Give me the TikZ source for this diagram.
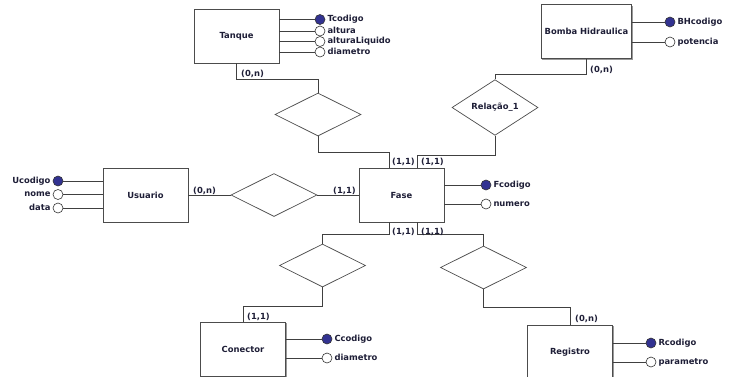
\documentclass[tikz,border=0pt]{standalone}
\usepackage{fontspec}
\setmainfont{DejaVu Sans}
\usetikzlibrary{shapes.geometric,shadows}
\definecolor{keyblue}{RGB}{50,50,145}
\definecolor{txt}{RGB}{30,30,55}
\tikzset{
  ent/.style={draw=black!70, fill=white, line width=0.8pt, minimum width=85pt, minimum height=54pt,
    drop shadow={shadow xshift=1pt, shadow yshift=-1pt, fill=black!40, opacity=1}},
  rel/.style={diamond, draw=black!70, fill=white, line width=0.7pt, minimum width=86pt, minimum height=43pt, inner sep=0pt},
  att/.style={circle, draw=black!80, fill=white, line width=0.6pt, minimum size=10pt, inner sep=0pt},
  key/.style={att, fill=keyblue},
  lbl/.style={inner sep=0pt, text height=6.5pt, text depth=2pt},
  card/.style={lbl, anchor=west},
  conn/.style={draw=black!75, line width=0.8pt},
}
\begin{document}
\begin{tikzpicture}[x=1pt, y=-1pt, font=\bfseries\fontsize{8.4}{10}\selectfont, text=txt]
\useasboundingbox (0,0) rectangle (736,376);

\node[ent] (tq) at (236.5,36) {Tanque};
\node[ent] (bb) at (586.5,31.5) {Bomba Hidraulica};
\node[ent] (us) at (145.5,195) {Usuario};
\node[ent] (fs) at (401.5,195) {Fase};
\node[ent] (cn) at (243,349) {Conector};
\node[ent] (rg) at (570,352) {Registro};

\node[rel] (r1) at (318,114.5) {};
\node[rel] (r2) at (495,107.5) {Relação\_1};
\node[rel] (r3) at (274,195) {};
\node[rel] (r4) at (322.5,265.5) {};
\node[rel] (r5) at (483.5,267.5) {};

\node[key] (t1) at (320,19.5) {};
\node[att] (t2) at (320,31) {};
\node[att] (t3) at (320,41.5) {};
\node[att] (t4) at (320,52) {};
\node[lbl, anchor=west] (t1l) at ([xshift=2pt]t1.east) {Tcodigo};
\node[lbl, anchor=west] (t2l) at ([xshift=2pt]t2.east) {altura};
\node[lbl, anchor=west] (t3l) at ([xshift=2pt]t3.east) {alturaLiquido};
\node[lbl, anchor=west] (t4l) at ([xshift=2pt]t4.east) {diametro};

\node[key] (b1) at (670,22) {};
\node[att] (b2) at (670,42) {};
\node[lbl, anchor=west] (b1l) at ([xshift=2pt]b1.east) {BHcodigo};
\node[lbl, anchor=west] (b2l) at ([xshift=2pt]b2.east) {potencia};

\node[key] (u1) at (58,181) {};
\node[att] (u2) at (58,194.5) {};
\node[att] (u3) at (58,208) {};
\node[lbl, anchor=east] (u1l) at ([xshift=-2pt]u1.west) {Ucodigo};
\node[lbl, anchor=east] (u2l) at ([xshift=-2pt]u2.west) {nome};
\node[lbl, anchor=east] (u3l) at ([xshift=-2pt]u3.west) {data};

\node[key] (f1) at (486,185) {};
\node[att] (f2) at (486,204) {};
\node[lbl, anchor=west] (f1l) at ([xshift=2pt]f1.east) {Fcodigo};
\node[lbl, anchor=west] (f2l) at ([xshift=2pt]f2.east) {numero};

\node[key] (c1) at (327,339) {};
\node[att] (c2) at (327,358) {};
\node[lbl, anchor=west] (c1l) at ([xshift=2pt]c1.east) {Ccodigo};
\node[lbl, anchor=west] (c2l) at ([xshift=2pt]c2.east) {diametro};

\node[key] (g1) at (651,343) {};
\node[att] (g2) at (651,362) {};
\node[lbl, anchor=west] (g1l) at ([xshift=2pt]g1.east) {Rcodigo};
\node[lbl, anchor=west] (g2l) at ([xshift=2pt]g2.east) {parametro};

\draw[conn] (tq.east |- t1) -- (t1);
\draw[conn] (tq.east |- t2) -- (t2);
\draw[conn] (tq.east |- t3) -- (t3);
\draw[conn] (tq.east |- t4) -- (t4);
\draw[conn] (bb.east |- b1) -- (b1);
\draw[conn] (bb.east |- b2) -- (b2);
\draw[conn] (us.west |- u1) -- (u1);
\draw[conn] (us.west |- u2) -- (u2);
\draw[conn] (us.west |- u3) -- (u3);
\draw[conn] (fs.east |- f1) -- (f1);
\draw[conn] (fs.east |- f2) -- (f2);
\draw[conn] (cn.east |- c1) -- (c1);
\draw[conn] (cn.east |- c2) -- (c2);
\draw[conn] (rg.east |- g1) -- (g1);
\draw[conn] (rg.east |- g2) -- (g2);

\draw[conn] (tq.south) -- ++(0,16) -| (r1.north);
\draw[conn] (r1.south) -- ++(0,16) -| ([xshift=-12.5pt]fs.north);
\draw[conn] (bb.south) -- ++(0,15) -| (r2.north);
\draw[conn] (r2.south) -- ++(0,20) -| ([xshift=15.5pt]fs.north);
\draw[conn] (us.east) -- (r3.west);
\draw[conn] (r3.east) -- (fs.west);
\draw[conn] ([xshift=-12.5pt]fs.south) -- ++(0,12) -| (r4.north);
\draw[conn] (r4.south) -- ++(0,19) -| (cn.north);
\draw[conn] ([xshift=15.5pt]fs.south) -- ++(0,12) -| (r5.north);
\draw[conn] (r5.south) -- ++(0,18) -| (rg.north);

\node[card] (k1) at (241,74.5) {(0,n)};
\node[card] (k2) at (392,162.5) {(1,1)};
\node[card] (k3) at (590,70) {(0,n)};
\node[card] (k4) at (421,162.5) {(1,1)};
\node[card] (k5) at (193,191.5) {(0,n)};
\node[card] (k6) at (333,191.5) {(1,1)};
\node[card] (k7) at (392,232.5) {(1,1)};
\node[card] (k8) at (247,317) {(1,1)};
\node[card] (k9) at (421,232.5) {(1,1)};
\node[card] (k10) at (575,319.5) {(0,n)};
\end{tikzpicture}
\end{document}
